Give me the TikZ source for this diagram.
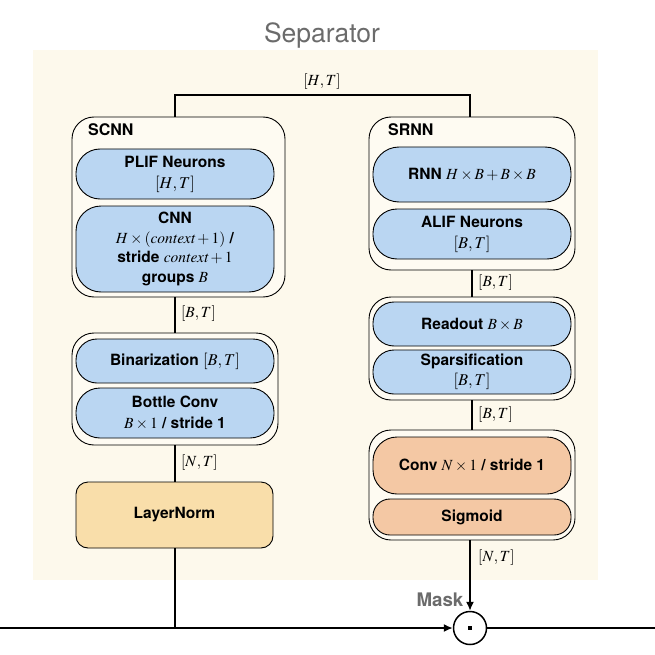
\documentclass[tikz,border=0pt]{standalone}
\usepackage{mathptmx}
\usepackage{fontspec}
\setsansfont{TeX Gyre Heros}
\usetikzlibrary{arrows.meta}
\definecolor{bgbeige}{HTML}{FDF9EC}
\definecolor{grpfill}{HTML}{FEFBF2}
\definecolor{blu}{HTML}{BAD6F2}
\definecolor{orng}{HTML}{F4C8A4}
\definecolor{lnorm}{HTML}{F9DEAA}
\definecolor{txtgray}{HTML}{6B6B6B}
\begin{document}
\begin{tikzpicture}[x=1pt,y=-1pt,
  lbl/.style={font=\sffamily\bfseries\fontsize{15.5}{20}\selectfont, align=center, inner sep=0pt},
  pill/.style={draw, line width=0.9pt, fill=blu, minimum width=198pt, lbl},
  opill/.style={draw, line width=0.9pt, fill=orng, minimum width=198pt, lbl},
  grp/.style={draw, line width=0.9pt, fill=grpfill, rounded corners=22pt},
  conn/.style={line width=1.5pt},
  dim/.style={font=\fontsize{15.5}{17}\selectfont, inner sep=1pt},
  arr/.style={line width=1.5pt, -{Latex[length=9pt,width=8pt]}}
]
\useasboundingbox (0,0) rectangle (655,655);
\fill[bgbeige] (33,50) rectangle (598,580);
\node[font=\sffamily\fontsize{26.5}{30}\selectfont, text=txtgray] (title) at (322,35) {Separator};

% top split
\coordinate (tl) at (175,95);
\coordinate (tr) at (470,95);
\node[dim] (dHT) at (322,82) {$[H,T]$};

% SCNN group
\node[grp, minimum width=213pt, minimum height=180pt] (scnn) at (178.5,207) {};
\node[lbl, anchor=west, font=\sffamily\bfseries\fontsize{16}{20}\selectfont] (scnnlbl) at (88,130) {SCNN};
\node[pill, minimum height=50pt, rounded corners=24pt] (plif) at (175,174) {PLIF Neurons\\[1pt]{\normalfont\fontsize{16.5}{17}\selectfont$[H,T]$}};
\node[pill, minimum height=86pt, rounded corners=25pt] (cnn) at (175,249) {CNN\\[0pt]{\normalfont$H\times(\mathit{context}+1)$}~/\\[-1pt]stride {\normalfont$\mathit{context}+1$}\\[0pt]groups {\normalfont$B$}};

% group 2 left
\node[grp, minimum width=206pt, minimum height=112pt] (g2) at (175,389) {};
\node[pill, minimum height=44pt, rounded corners=21pt] (bin) at (175,361) {Binarization {\normalfont\fontsize{16.5}{17}\selectfont$[B,T]$}};
\node[pill, minimum height=50pt, rounded corners=24pt] (bottle) at (175,413) {Bottle Conv\\[1pt]{\normalfont$B\times1$} / stride 1};

\node[lbl, draw, line width=0.9pt, fill=lnorm, minimum width=197pt, minimum height=66pt, rounded corners=12pt] (ln) at (174.5,515) {LayerNorm};

% SRNN group
\node[grp, minimum width=206pt, minimum height=153pt] (srnn) at (472,193.5) {};
\node[lbl, anchor=west, font=\sffamily\bfseries\fontsize{16}{20}\selectfont] (srnnlbl) at (388,130) {SRNN};
\node[pill, minimum height=55pt, rounded corners=26pt] (rnn) at (472,174.5) {RNN {\normalfont$H\times B+B\times B$}};
\node[pill, minimum height=50pt, rounded corners=24pt] (alif) at (472,234) {ALIF Neurons\\[1pt]{\normalfont\fontsize{16.5}{17}\selectfont$[B,T]$}};

\node[grp, minimum width=206pt, minimum height=103pt] (g4) at (472,348.5) {};
\node[pill, minimum height=44pt, rounded corners=21pt] (read) at (472,324) {Readout {\normalfont$B\times B$}};
\node[pill, minimum height=44pt, rounded corners=21pt] (spars) at (472,372) {Sparsification\\[0pt]{\normalfont\fontsize{16.5}{17}\selectfont$[B,T]$}};

\node[grp, minimum width=206pt, minimum height=110pt] (g5) at (472,485) {};
\node[opill, minimum height=57pt, rounded corners=24pt] (conv) at (472,465.5) {Conv {\normalfont$N\times1$} / stride 1};
\node[opill, minimum height=36pt, rounded corners=17pt] (sig) at (472,517) {Sigmoid};

% connectors
\draw[conn] (scnn.north -| tl) -- (tl) -- (tr) -- (srnn.north -| tr);
\draw[conn] (scnn.south -| bin) -- (g2.north);
\node[dim, anchor=west] (d1) at (180,314) {$[B,T]$};
\draw[conn] (g2.south) -- (ln.north -| g2.south);
\node[dim, anchor=west] (d2) at (180,463) {$[N,T]$};
\draw[conn] (srnn.south) -- (g4.north);
\node[dim, anchor=west] (d3) at (477,283) {$[B,T]$};
\draw[conn] (g4.south) -- (g5.north);
\node[dim, anchor=west] (d4) at (477,415) {$[B,T]$};

% output
\node[draw, circle, line width=1.5pt, minimum size=33pt, inner sep=0pt] (mul) at (470,628) {};
\fill (mul.center) ++(-2.2,-2.2) rectangle ++(4.4,4.4);
\coordinate (inL) at (0,628);
\coordinate (outR) at (655,628);
\coordinate (junc) at (175,628);
\draw[arr] (inL) -- (mul.west);
\draw[conn] (mul.east) -- (outR);
\draw[conn] (ln.south -| junc) -- (junc);
\draw[arr] (g5.south -| mul) -- (mul.north);
\node[dim, anchor=west] (d5) at (477,558) {$[N,T]$};
\node[font=\sffamily\bfseries\fontsize{18.7}{20}\selectfont, text=txtgray] (mask) at (440,600) {Mask};
\end{tikzpicture}
\end{document}
